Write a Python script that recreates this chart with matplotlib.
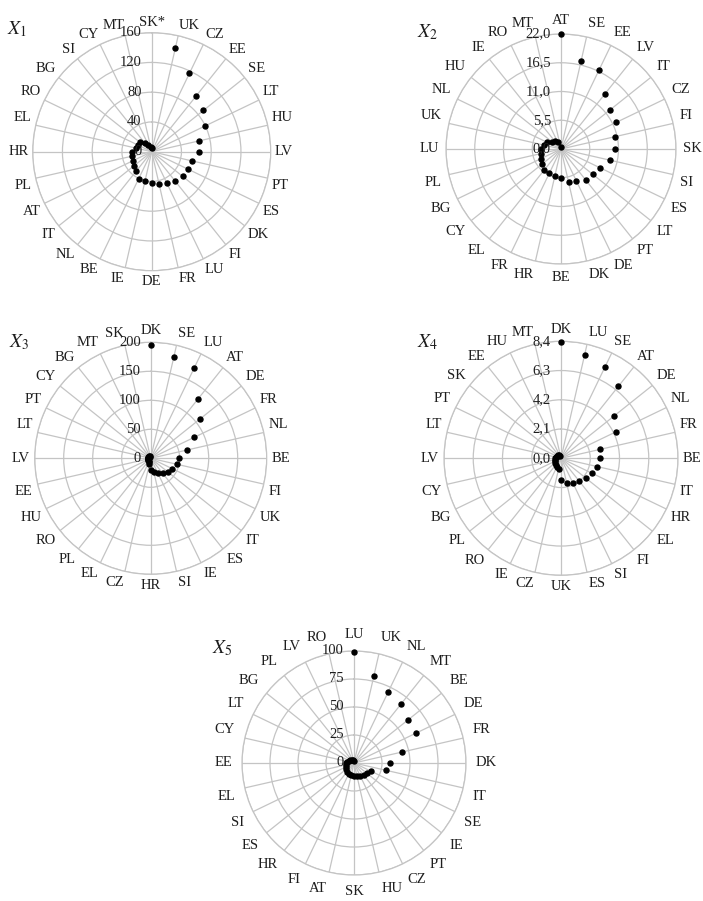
import numpy as np
import matplotlib
matplotlib.use("Agg")
import matplotlib.pyplot as plt

plt.rcParams["font.family"] = ["Liberation Serif", "DejaVu Serif"]
plt.rcParams["mathtext.fontset"] = "stix"

# ---- data -------------------------------------------------------------
x1_countries = ["SK*", "UK", "CZ", "EE", "SE", "LT", "HU", "LV", "PT", "ES", "DK", "FI", "LU", "FR",
                "DE", "IE", "BE", "NL", "IT", "AT", "PL", "HR", "EL", "RO", "BG", "SI", "CY", "MT"]
x1_values = [5, 143, 117, 95, 89, 79, 65, 63, 55, 54, 53, 50, 47, 44,
             42, 41, 40, 33, 30, 28, 27, 26, 22, 21, 20, 15, 10, 6]
x1_ticks = ["0", "40", "80", "120", "160"]
x1_levels = [0, 40, 80, 120, 160]

x2_countries = ["AT", "SE", "EE", "LV", "IT", "CZ", "FI", "SK", "SI", "ES", "LT", "PT", "DE", "DK",
                "BE", "HR", "FR", "EL", "CY", "BG", "PL", "LU", "UK", "NL", "HU", "IE", "RO", "MT"]
x2_values = [22.0, 17.3, 16.7, 13.4, 12.1, 11.7, 10.6, 10.3, 9.6, 8.2, 7.8, 7.6, 6.8, 6.5,
             5.6, 5.3, 5.2, 5.1, 4.7, 4.3, 4.0, 3.8, 3.4, 2.9, 2.3, 1.9, 1.4, 0.3]
x2_ticks = ["0,0", "5,5", "11,0", "16,5", "22,0"]
x2_levels = [0, 5.5, 11.0, 16.5, 22.0]

x3_countries = ["DK", "SE", "LU", "AT", "DE", "FR", "NL", "BE", "FI", "UK", "IT", "ES", "IE", "SI",
                "HR", "CZ", "EL", "PL", "RO", "HU", "EE", "LV", "LT", "PT", "CY", "BG", "MT", "SK"]
x3_values = [195, 179, 173, 131, 109, 83, 64, 48, 46, 41, 38, 33, 29, 25,
             20, 10, 7, 6, 6, 5, 5, 5, 5, 5, 4, 4, 4, 3]
x3_ticks = ["0", "50", "100", "150", "200"]
x3_levels = [0, 50, 100, 150, 200]

x4_countries = ["DK", "LU", "SE", "AT", "DE", "NL", "FR", "BE", "IT", "HR", "EL", "FI", "SI", "ES",
                "UK", "CZ", "IE", "RO", "PL", "BG", "CY", "LV", "LT", "PT", "SK", "EE", "HU", "MT"]
x4_values = [8.35, 7.6, 7.3, 6.6, 4.85, 4.35, 2.9, 2.8, 2.65, 2.45, 2.3, 2.1, 1.95, 1.8,
             1.55, 0.8, 0.7, 0.6, 0.55, 0.5, 0.45, 0.4, 0.4, 0.35, 0.3, 0.3, 0.25, 0.2]
x4_ticks = ["0,0", "2,1", "4,2", "6,3", "8,4"]
x4_levels = [0, 2.1, 4.2, 6.3, 8.4]

x5_countries = ["LU", "UK", "NL", "MT", "BE", "DE", "FR", "DK", "IT", "SE", "IE", "PT", "CZ", "HU",
                "SK", "AT", "FI", "HR", "ES", "SI", "EL", "EE", "CY", "LT", "BG", "PL", "LV", "RO"]
x5_values = [99, 80, 70, 67, 62, 61, 44, 32, 29, 17, 15, 14, 13, 12,
             12, 11, 11, 10, 9, 8, 7, 7, 6, 5, 4, 3, 3, 2]
x5_ticks = ["0", "25", "50", "75", "100"]
x5_levels = [0, 25, 50, 75, 100]

titles = [r"$X_\mathit{1}$", r"$X_\mathit{2}$", r"$X_\mathit{3}$",
          r"$X_\mathit{4}$", r"$X_\mathit{5}$"]

# ---- layout (pixels) ----------------------------------------------------
W, H = 703, 901
fig = plt.figure(figsize=(W / 100, H / 100), dpi=100)
fig.patch.set_facecolor("white")

GRID = "#c4c4c4"
TXT = "#1e1e1e"


def radar(cx, cy, R, pad_px, countries, values, levels, ticks, title, tx, ty):
    ax = fig.add_axes([(cx - R) / W, 1 - (cy + R) / H, 2 * R / W, 2 * R / H],
                      projection="polar")
    n = len(countries)
    theta = np.arange(n) * 2 * np.pi / n
    ax.set_theta_zero_location("N")
    ax.set_theta_direction(-1)
    ax.set_ylim(0, levels[-1])
    ax.set_xticks(theta)
    ax.set_xticklabels([])
    ax.set_yticks(levels[1:])
    ax.set_yticklabels([])
    ax.grid(True, color=GRID, lw=0.9)
    ax.spines["polar"].set_color(GRID)
    ax.spines["polar"].set_linewidth(0.9)
    ax.tick_params(length=0)
    ax.set_facecolor("white")
    ax.plot(theta, values, "o", ms=3.6, color="black", clip_on=False, zorder=5)

    # category labels around the rim
    pad = pad_px / (2 * R)
    for t, name in zip(theta, countries):
        s, c = np.sin(t), np.cos(t)
        ha = "left" if s > 0.15 else ("right" if s < -0.15 else "center")
        va = "bottom" if c > 0.15 else ("top" if c < -0.15 else "center")
        ax.text(0.5 + (0.5 + pad) * s, 0.5 + (0.5 + pad) * c, name,
                transform=ax.transAxes, ha=ha, va=va, fontsize=10.5, color=TXT)

    # value labels along the upper spoke
    for lv, lab in zip(levels, ticks):
        ax.text(0.5 - 10.0 / (2 * R), 0.5 + 0.5 * lv / levels[-1], lab,
                transform=ax.transAxes, ha="right", va="center",
                fontsize=10.5, color=TXT, zorder=6)

    fig.text(tx / W, 1 - ty / H, title, ha="left", va="center",
             fontsize=14, color=TXT)
    return ax


radar(151.7, 151.7, 119, 4, x1_countries, x1_values, x1_levels, x1_ticks, titles[0], 7, 29)
radar(561.0, 149.0, 115, 7, x2_countries, x2_values, x2_levels, x2_ticks, titles[1], 417, 32)
radar(150.7, 458.3, 116, 5, x3_countries, x3_values, x3_levels, x3_ticks, titles[2], 9, 342)
radar(561.0, 458.3, 117, 5, x4_countries, x4_values, x4_levels, x4_ticks, titles[3], 417, 342)
radar(354.0, 763.0, 112, 10, x5_countries, x5_values, x5_levels, x5_ticks, titles[4], 212, 648)

fig.savefig("out.png", dpi=100, facecolor="white")
